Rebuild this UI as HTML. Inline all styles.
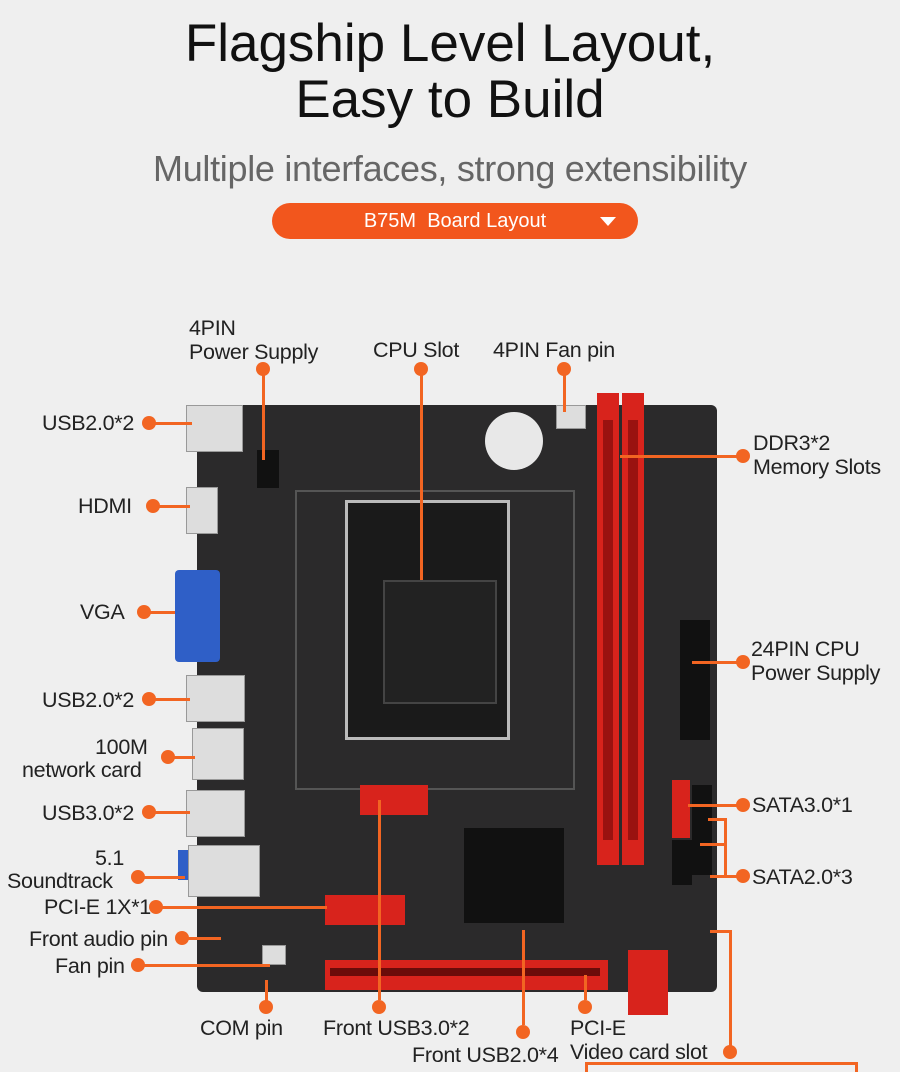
<!DOCTYPE html>
<html><head><style>
body{margin:0;width:900px;height:1069px;background:#efefef;position:relative;overflow:hidden;font-family:"Liberation Sans",sans-serif;}
.a{position:absolute}
.t{position:absolute;color:#222;font-size:21.5px;line-height:24px;letter-spacing:-0.3px;white-space:nowrap}
.d{position:absolute;width:14px;height:14px;border-radius:50%;background:#f26522}
.h{position:absolute;height:3px;background:#f26522}
.v{position:absolute;width:3px;background:#f26522}
.r{position:absolute;background:#d8231c}
.g{position:absolute;background:#444}
.w{position:absolute;background:#ddd;border:1px solid #999}
</style></head><body>
<div class="a" style="left:0;top:16px;width:900px;text-align:center;font-size:53px;line-height:56px;color:#111">Flagship Level Layout,<br>Easy to Build</div>
<div class="a" style="left:0;top:148px;width:900px;text-align:center;font-size:36px;color:#666;letter-spacing:-0.3px">Multiple interfaces, strong extensibility</div>
<div class="a" style="left:272px;top:203px;width:366px;height:36px;border-radius:18px;background:#f2561d;color:#fff;font-size:20px;line-height:36px;text-align:center">B75M &nbsp;Board Layout <span style="position:absolute;right:22px;top:14px;width:0;height:0;border-left:8px solid transparent;border-right:8px solid transparent;border-top:9px solid #fff"></span></div>

<!-- board -->
<div class="a" style="left:197px;top:405px;width:520px;height:587px;background:#2b2a2b;border-radius:6px"></div>
<div class="a" style="left:295px;top:490px;width:280px;height:300px;border:2px solid #555;box-sizing:border-box"></div>
<div class="a" style="left:345px;top:500px;width:165px;height:240px;background:#1a1a1a;border:3px solid #bbb;box-sizing:border-box"></div>
<div class="a" style="left:383px;top:580px;width:110px;height:120px;background:#222;border:2px solid #444"></div>
<div class="a" style="left:485px;top:412px;width:58px;height:58px;border-radius:50%;background:#e8e8e8"></div>
<div class="a" style="left:464px;top:828px;width:100px;height:95px;background:#111"></div>
<div class="w" style="left:186px;top:405px;width:55px;height:45px"></div>
<div class="w" style="left:186px;top:487px;width:30px;height:45px"></div>
<div class="a" style="left:175px;top:570px;width:45px;height:92px;background:#2f5fc7;border-radius:4px"></div>
<div class="w" style="left:186px;top:675px;width:57px;height:45px"></div>
<div class="w" style="left:192px;top:728px;width:50px;height:50px"></div>
<div class="w" style="left:186px;top:790px;width:57px;height:45px"></div>
<div class="w" style="left:188px;top:845px;width:70px;height:50px"></div>
<div class="a" style="left:178px;top:850px;width:10px;height:30px;background:#2f5fc7"></div>
<div class="g" style="left:257px;top:450px;width:22px;height:38px;background:#111"></div>
<div class="w" style="left:556px;top:405px;width:28px;height:22px"></div>
<div class="r" style="left:597px;top:393px;width:22px;height:472px"></div>
<div class="r" style="left:622px;top:393px;width:22px;height:472px"></div>
<div class="a" style="left:603px;top:420px;width:10px;height:420px;background:#9a1210"></div>
<div class="a" style="left:628px;top:420px;width:10px;height:420px;background:#9a1210"></div>
<div class="a" style="left:680px;top:620px;width:30px;height:120px;background:#111"></div>
<div class="r" style="left:672px;top:780px;width:18px;height:58px"></div>
<div class="g" style="left:692px;top:785px;width:20px;height:90px;background:#111"></div>
<div class="g" style="left:672px;top:840px;width:20px;height:45px;background:#111"></div>
<div class="r" style="left:360px;top:785px;width:68px;height:30px"></div>
<div class="r" style="left:325px;top:895px;width:80px;height:30px"></div>
<div class="r" style="left:325px;top:960px;width:283px;height:30px"></div>
<div class="a" style="left:330px;top:968px;width:270px;height:8px;background:#6b0c0a"></div>
<div class="r" style="left:628px;top:950px;width:40px;height:65px"></div>
<div class="w" style="left:262px;top:945px;width:22px;height:18px"></div>

<!-- labels -->
<div class="t" style="left:189px;top:316px">4PIN<br>Power Supply</div>
<div class="d" style="left:256px;top:362px"></div><div class="v" style="left:262px;top:370px;height:90px"></div>
<div class="t" style="left:373px;top:338px">CPU Slot</div>
<div class="d" style="left:414px;top:362px"></div><div class="v" style="left:420px;top:370px;height:210px"></div>
<div class="t" style="left:493px;top:338px">4PIN Fan pin</div>
<div class="d" style="left:557px;top:362px"></div><div class="v" style="left:563px;top:370px;height:42px"></div>

<div class="t" style="left:42px;top:411px">USB2.0*2</div><div class="d" style="left:142px;top:416px"></div><div class="h" style="left:150px;top:422px;width:42px"></div>
<div class="t" style="left:78px;top:494px">HDMI</div><div class="d" style="left:146px;top:499px"></div><div class="h" style="left:155px;top:505px;width:35px"></div>
<div class="t" style="left:80px;top:600px">VGA</div><div class="d" style="left:137px;top:605px"></div><div class="h" style="left:145px;top:611px;width:30px"></div>
<div class="t" style="left:42px;top:688px">USB2.0*2</div><div class="d" style="left:142px;top:692px"></div><div class="h" style="left:150px;top:698px;width:40px"></div>
<div class="t" style="left:95px;top:735px">100M</div><div class="t" style="left:22px;top:758px">network card</div><div class="d" style="left:161px;top:750px"></div><div class="h" style="left:170px;top:756px;width:25px"></div>
<div class="t" style="left:42px;top:801px">USB3.0*2</div><div class="d" style="left:142px;top:805px"></div><div class="h" style="left:150px;top:811px;width:40px"></div>
<div class="t" style="left:95px;top:846px">5.1</div><div class="t" style="left:7px;top:869px">Soundtrack</div><div class="d" style="left:131px;top:870px"></div><div class="h" style="left:140px;top:876px;width:45px"></div>
<div class="t" style="left:44px;top:895px">PCI-E 1X*1</div><div class="d" style="left:149px;top:900px"></div><div class="h" style="left:157px;top:906px;width:170px"></div>
<div class="t" style="left:29px;top:927px">Front audio pin</div><div class="d" style="left:175px;top:931px"></div><div class="h" style="left:183px;top:937px;width:38px"></div>
<div class="t" style="left:55px;top:954px">Fan pin</div><div class="d" style="left:131px;top:958px"></div><div class="h" style="left:140px;top:964px;width:130px"></div>

<div class="t" style="left:753px;top:431px">DDR3*2<br>Memory Slots</div><div class="d" style="left:736px;top:449px"></div><div class="h" style="left:620px;top:455px;width:120px"></div>
<div class="t" style="left:751px;top:637px">24PIN CPU<br>Power Supply</div><div class="d" style="left:736px;top:655px"></div><div class="h" style="left:692px;top:661px;width:45px"></div>
<div class="t" style="left:752px;top:793px">SATA3.0*1</div><div class="d" style="left:736px;top:798px"></div><div class="h" style="left:688px;top:804px;width:50px"></div>
<div class="t" style="left:752px;top:865px">SATA2.0*3</div><div class="d" style="left:736px;top:869px"></div><div class="h" style="left:710px;top:875px;width:28px"></div>
<div class="v" style="left:724px;top:818px;height:58px"></div><div class="h" style="left:708px;top:818px;width:18px"></div><div class="h" style="left:700px;top:843px;width:26px"></div>

<div class="d" style="left:259px;top:1000px"></div><div class="v" style="left:265px;top:980px;height:22px"></div>
<div class="t" style="left:200px;top:1016px">COM pin</div>
<div class="d" style="left:372px;top:1000px"></div><div class="v" style="left:378px;top:800px;height:200px"></div>
<div class="t" style="left:323px;top:1016px">Front USB3.0*2</div>
<div class="d" style="left:516px;top:1025px"></div><div class="v" style="left:522px;top:930px;height:95px"></div>
<div class="t" style="left:412px;top:1043px">Front USB2.0*4</div>
<div class="d" style="left:578px;top:1000px"></div><div class="v" style="left:584px;top:975px;height:25px"></div>
<div class="t" style="left:570px;top:1016px">PCI-E<br>Video card slot</div>
<div class="d" style="left:723px;top:1045px"></div><div class="v" style="left:729px;top:930px;height:118px"></div><div class="h" style="left:710px;top:930px;width:20px"></div>
<div class="h" style="left:585px;top:1062px;width:272px"></div><div class="v" style="left:585px;top:1062px;height:10px"></div><div class="v" style="left:855px;top:1062px;height:10px"></div>
</body></html>
